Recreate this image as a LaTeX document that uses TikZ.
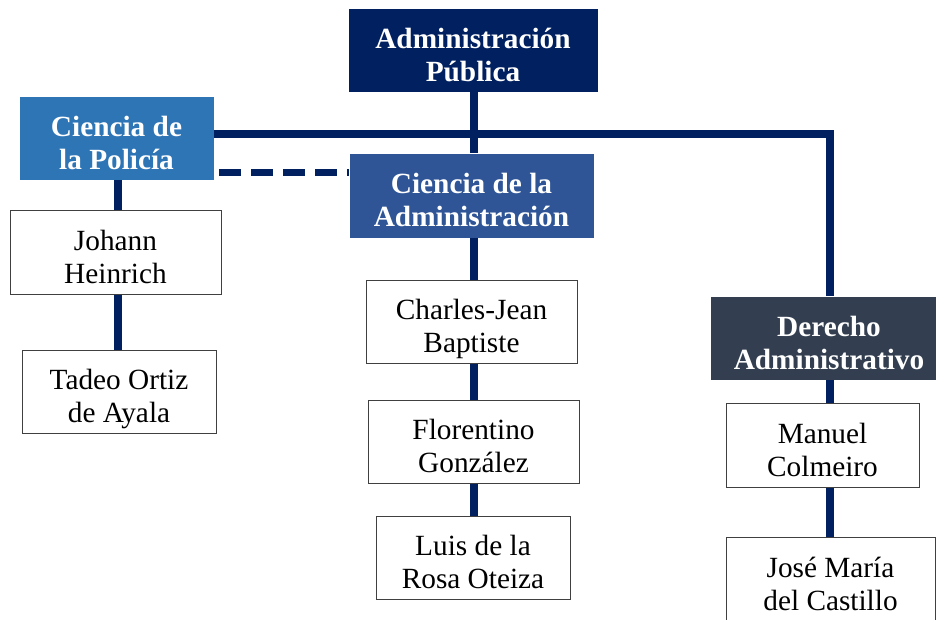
\documentclass[tikz,border=0pt]{standalone}
\usepackage{fontspec}
\setmainfont{Liberation Serif}
\definecolor{navy}{HTML}{002060}
\definecolor{polblue}{HTML}{2E75B6}
\definecolor{admblue}{HTML}{2F5597}
\definecolor{slate}{HTML}{333F50}
\definecolor{boxline}{HTML}{404040}
\tikzset{
  head/.style={rectangle, align=center, text=white, draw=white, line width=0.8pt,
    font=\fontsize{29.3}{33}\selectfont\bfseries, inner sep=0pt, minimum height=84pt,
    text height=66pt, text depth=4pt},
  person/.style={rectangle, align=center, text=black, fill=white, draw=boxline, line width=1pt,
    font=\fontsize{29.3}{33}\selectfont, inner sep=0pt, minimum height=84pt,
    text height=66pt, text depth=4pt},
  conn/.style={draw=navy, line width=8pt},
  dashconn/.style={draw=navy, line width=7pt, dash pattern=on 22pt off 10pt}
}
\begin{document}
\begin{tikzpicture}[x=1pt,y=-1pt]
\useasboundingbox (0,0) rectangle (936,619);
\clip (0,0) rectangle (936,619);
% column coordinates
\coordinate (cx) at (474,0);
\coordinate (lx) at (118,0);
\coordinate (rx) at (830,0);
\coordinate (hy) at (0,134);
\coordinate (dy) at (0,172.5);
\coordinate (corner) at (830,134);
% heads
\node[head, fill=navy, minimum width=250pt] (ap) at (473,50) {Administración\\Pública};
\node[head, fill=polblue, minimum width=195pt] (pol) at (116.5,138) {Ciencia de\\la Policía};
\node[head, fill=admblue, minimum width=245pt, minimum height=85pt] (ca) at (471.5,195.5) {Ciencia de la\\Administración};
\node[head, fill=slate, minimum width=238pt] (da) at (829,338) {Derecho\\Administrativo};
% persons
\node[person, minimum width=211pt] (jh) at (115.5,252) {Johann\\Heinrich};
\node[person, minimum width=194pt, minimum height=83pt] (to) at (119,391.5) {Tadeo Ortiz\\de Ayala};
\node[person, minimum width=211pt, minimum height=83pt] (cj) at (471.5,321.5) {Charles-Jean\\Baptiste};
\node[person, minimum width=211pt, minimum height=83pt] (fg) at (473.5,441.5) {Florentino\\González};
\node[person, minimum width=194pt, minimum height=83pt] (lr) at (473,557.5) {Luis de la\\Rosa Oteiza};
\node[person, minimum width=193pt] (mc) at (822.5,445) {Manuel\\Colmeiro};
\node[person, minimum width=209pt] (jm) at (830.5,579) {José María\\del Castillo};
% connectors
\draw[conn] (ap.south -| cx) -- (ca.north -| cx);
\draw[conn] (ca.south -| cx) -- (cj.north -| cx);
\draw[conn] (cj.south -| cx) -- (fg.north -| cx);
\draw[conn] (fg.south -| cx) -- (lr.north -| cx);
\draw[conn] (pol.east |- hy) -- (corner) -- (da.north -| rx);
\draw[conn] (pol.south -| lx) -- (jh.north -| lx);
\draw[conn] (jh.south -| lx) -- (to.north -| lx);
\draw[conn] (da.south -| rx) -- (mc.north -| rx);
\draw[conn] (mc.south -| rx) -- (jm.north -| rx);
\draw[dashconn] ([xshift=5pt]pol.east |- dy) -- (ca.west |- dy);
\end{tikzpicture}
\end{document}
